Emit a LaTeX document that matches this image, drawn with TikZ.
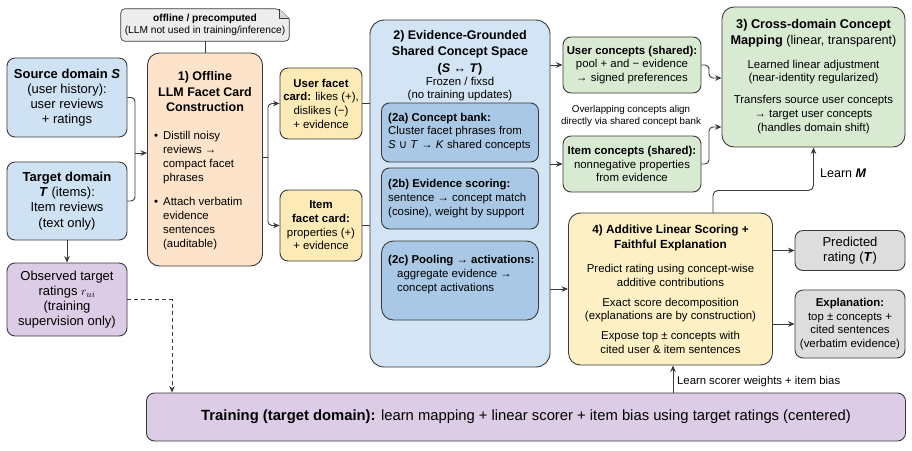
\documentclass[tikz,border=0pt]{standalone}
\usepackage{fontspec}
\setmainfont{Liberation Sans}
\newfontfamily\symf{DejaVu Sans}
\usetikzlibrary{arrows.meta,calc,backgrounds}
\definecolor{bordc}{HTML}{3A3A3A}
\definecolor{blueA}{HTML}{CFE2F3}
\definecolor{blueC}{HTML}{D3E4F4}
\definecolor{blueD}{HTML}{A9C8E5}
\definecolor{orangeA}{HTML}{FCE3CA}
\definecolor{yellowA}{HTML}{FCEBB6}
\definecolor{yellowB}{HTML}{FDF0C5}
\definecolor{greenA}{HTML}{D8EAD2}
\definecolor{grayA}{HTML}{DDDDDD}
\definecolor{noteC}{HTML}{EDEDED}
\definecolor{noteD}{HTML}{D6D6D6}
\definecolor{purpA}{HTML}{DCCCE6}
\newcommand\fsBody{\fontsize{11.4}{13.7}\selectfont}
\newcommand\fsTitle{\fontsize{12.5}{15.5}\selectfont\bfseries}
\newcommand\fsBig{\fontsize{13}{15.2}\selectfont}
\newcommand\fsNote{\fontsize{10.2}{12}\selectfont}
\newcommand\fsTiny{\fontsize{9.8}{12}\selectfont}
\newcommand\fsTrain{\fontsize{14.8}{17}\selectfont}
\begin{document}
\begin{tikzpicture}[x=1pt,y=-1pt,
 box/.style={draw=bordc, line width=0.9pt, rounded corners=8pt, inner sep=0pt, align=center, font=\fsBody},
 txt/.style={inner sep=0pt, align=center, font=\fsBody},
 ltxt/.style={inner sep=0pt, align=left, font=\fsBody, anchor=west},
 wire/.style={draw=bordc, line width=0.9pt},
 conn/.style={wire, -{Stealth[length=6.5pt,width=5.5pt]}},
]
\useasboundingbox (0,0) rectangle (912,450);

% note
\node[txt, font=\fsNote, minimum width=168pt, minimum height=32pt] (note) at (205,25)
  {\textbf{offline / precomputed}\\(LLM not used in training/inference)};
\begin{pgfonlayer}{background}
\fill[white] (0,0) rectangle (912,450);
\draw[wire, fill=noteC, line width=0.7pt, rounded corners=4pt]
  (note.south west) -- (note.north west) -- ([xshift=-10pt]note.north east)
  [sharp corners] -- ([yshift=-10pt]note.north east)
  [rounded corners=4pt] -- (note.south east) -- cycle;
\draw[wire, fill=noteD, line width=0.7pt]
  ([xshift=-10pt]note.north east) -- ([xshift=-10pt,yshift=-10pt]note.north east) -- ([yshift=-10pt]note.north east);
\end{pgfonlayer}

% left column
\node[box, fill=blueA, font=\fsBig, minimum width=120pt, minimum height=79pt] (src) at (67,97.5)
  {\textbf{Source domain \textit{S}}\\(user history):\\user reviews\\+ ratings};
\node[box, fill=blueA, font=\fsBig, minimum width=120pt, minimum height=78pt] (tgt) at (67,201)
  {\textbf{Target domain}\\\textbf{\textit{T}} (items):\\Item reviews\\(text only)};
\node[box, fill=purpA, font=\fsBig, minimum width=120pt, minimum height=73pt] (obs) at (67,299.5)
  {Observed target\\ratings $r_{ui}$\\(training\\supervision only)};

% LLM box
\node[box, fill=orangeA, rounded corners=12pt, minimum width=115pt, minimum height=213pt] (llm) at (205,159.5) {};
\node[txt, font=\fsTitle] (llmt) at (205,91.7) {1) Offline\\LLM Facet Card\\Construction};
\node[ltxt] (llmb1) at (154,157.5) {\makebox[9pt][l]{\textbullet}Distill noisy\\\hspace*{9pt}reviews →\\\hspace*{9pt}compact facet\\\hspace*{9pt}phrases};
\node[ltxt] (llmb2) at (154,223.5) {\makebox[9pt][l]{\textbullet}Attach verbatim\\\hspace*{9pt}evidence\\\hspace*{9pt}sentences\\\hspace*{9pt}(auditable)};

% facet cards
\node[box, fill=yellowA, minimum width=82pt, minimum height=71pt] (ucard) at (321,103.5)
  {\textbf{User facet}\\\textbf{card:} likes (+),\\dislikes (−)\\+ evidence};
\node[box, fill=yellowA, minimum width=82pt, minimum height=71pt] (icard) at (321,225.5)
  {\textbf{Item}\\\textbf{facet card:}\\properties (+)\\+ evidence};

% central box
\node[box, fill=blueC, rounded corners=14pt, minimum width=180pt, minimum height=347pt] (cen) at (460,193.5) {};
\node[txt, font=\fontsize{12.5}{16.5}\selectfont\bfseries] (cent) at (460,52.5)
  {2) Evidence-Grounded\\Shared Concept Space\\(\textit{S} ↔ \textit{T})};
\node[txt, font=\fontsize{11.4}{12.5}\selectfont] (cenf) at (460,89) {Frozen / fixsd\\(no training updates)};
\node[box, fill=blueD, minimum width=157pt, minimum height=59pt] (ba) at (460,132.5) {};
\node[box, fill=blueD, minimum width=157pt, minimum height=61pt] (bb) at (460,198.5) {};
\node[box, fill=blueD, rounded corners=12pt, minimum width=157pt, minimum height=79pt] (bc) at (460,280.5) {};
\node[ltxt] (bat) at (388,132) {\textbf{(2a) Concept bank:}\\Cluster facet phrases from\\\textit{S} {\symf ∪} \textit{T} → \textit{K} shared concepts};
\node[ltxt] (bbt) at (388,198.7) {\textbf{(2b) Evidence scoring:}\\sentence → concept match\\(cosine), weight by support};
\node[ltxt] (bct) at (388,274.5) {\textbf{(2c) Pooling → activations:}\\\hspace*{9pt}aggregate evidence →\\\hspace*{9pt}concept activations};

% concepts
\node[box, fill=greenA, minimum width=138pt, minimum height=56pt] (ucon) at (632,65)
  {\textbf{User concepts (shared):}\\pool + and − evidence\\→ signed preferences};
\node[txt, font=\fsTiny] (ovl) at (631,115.5) {Overlapping concepts align\\directly via shared concept bank};
\node[box, fill=greenA, minimum width=138pt, minimum height=56pt] (icon) at (632,164)
  {\textbf{Item concepts (shared):}\\nonnegative properties\\from evidence};

% cross-domain
\node[box, fill=greenA, rounded corners=12pt, minimum width=183pt, minimum height=140pt] (cross) at (813.5,77) {};
\node[txt, font=\fontsize{12.7}{16}\selectfont] (crt) at (813.5,33) {\textbf{3) Cross-domain Concept}\\\textbf{Mapping} (linear, transparent)};
\node[txt] (crb1) at (813.5,72) {Learned linear adjustment\\(near-identity regularized)};
\node[txt] (crb2) at (813.5,114.7) {Transfers source user concepts\\→ target user concepts\\(handles domain shift)};

% additive
\node[box, fill=yellowB, rounded corners=12pt, minimum width=204pt, minimum height=152pt] (add) at (670.5,289) {};
\node[txt, font=\fontsize{11.8}{15}\selectfont\bfseries] (addt) at (670.5,237.5) {4) Additive Linear Scoring +\\Faithful Explanation};
\node[txt] (addb1) at (670.5,275.5) {Predict rating using concept-wise\\additive contributions};
\node[txt] (addb2) at (670.5,310) {Exact score decomposition\\(explanations are by construction)};
\node[txt] (addb3) at (670.5,342.5) {Expose top ± concepts with\\cited user \& item sentences};

% outputs
\node[box, fill=grayA, font=\fsBig, minimum width=110pt, minimum height=40pt] (pred) at (850,250.5)
  {Predicted\\rating (\textbf{\textit{T}})};
\node[box, fill=grayA, minimum width=110pt, minimum height=68pt] (expl) at (850,324)
  {\textbf{Explanation:}\\top ± concepts +\\cited sentences\\(verbatim evidence)};

% training
\node[box, fill=purpA, font=\fsTrain, minimum width=759pt, minimum height=48pt] (train) at (526,417)
  {\textbf{Training (target domain):} learn mapping + linear scorer + item bias using target ratings (centered)};

% connectors
\draw[wire] (note.south) -- (llm.north);
\coordinate (j1) at (135,153);
\draw[wire, rounded corners=4pt] (src.east) -| (j1);
\draw[wire, rounded corners=4pt] (tgt.east) -| (j1);
\draw[conn] (j1) -- (llm.west |- j1);
\draw[conn] (tgt.south) -- (obs.north);

\coordinate (j2) at (268,157);
\draw[wire] (llm.east |- j2) -- (j2);
\draw[conn, rounded corners=4pt] (j2) |- (ucard.west);
\draw[conn, rounded corners=4pt] (j2) |- (icard.west);
\draw[wire] (ucard.east) -- (ucard.east -| cen.west);
\draw[wire] (icard.east) -- (icard.east -| cen.west);

\draw[conn] (cen.east |- ucon.west) -- (ucon.west);
\draw[conn] (cen.east |- icon.west) -- (icon.west);
\draw[conn] (cen.east |- add.west) -- (add.west);

\coordinate (cy1) at (0,78);
\coordinate (cy2) at (0,127);
\coordinate (k1) at (709,71);
\coordinate (k2) at (709,145);
\draw[conn, rounded corners=4pt] (ucon.east) -| (k1) |- (cross.west |- cy1);
\draw[conn, rounded corners=4pt] (icon.east) -| (k2) |- (cross.west |- cy2);

\coordinate (mA) at (713,0);
\draw[conn, rounded corners=5pt] (add.north -| mA) |- ($(cross.south)+(0,43)$) -- (cross.south);
\node[anchor=west, inner sep=0pt, font=\fontsize{12.5}{14}\selectfont] (lm) at (820,173) {Learn \textbf{\textit{M}}};

\draw[conn] (add.east |- pred.west) -- (pred.west);
\draw[conn] (add.east |- expl.west) -- (expl.west);

\coordinate (c673) at (673,0);
\draw[conn] (train.north -| c673) -- (add.south -| c673);
\node[anchor=west, inner sep=0pt, font=\fontsize{11.3}{13}\selectfont] (lsw) at (677,382) {Learn scorer weights + item bias};

\coordinate (cd) at (172,0);
\draw[conn, dashed, dash pattern=on 4pt off 3pt, line width=0.8pt] (obs.east) -| (train.north -| cd);
\end{tikzpicture}
\end{document}
